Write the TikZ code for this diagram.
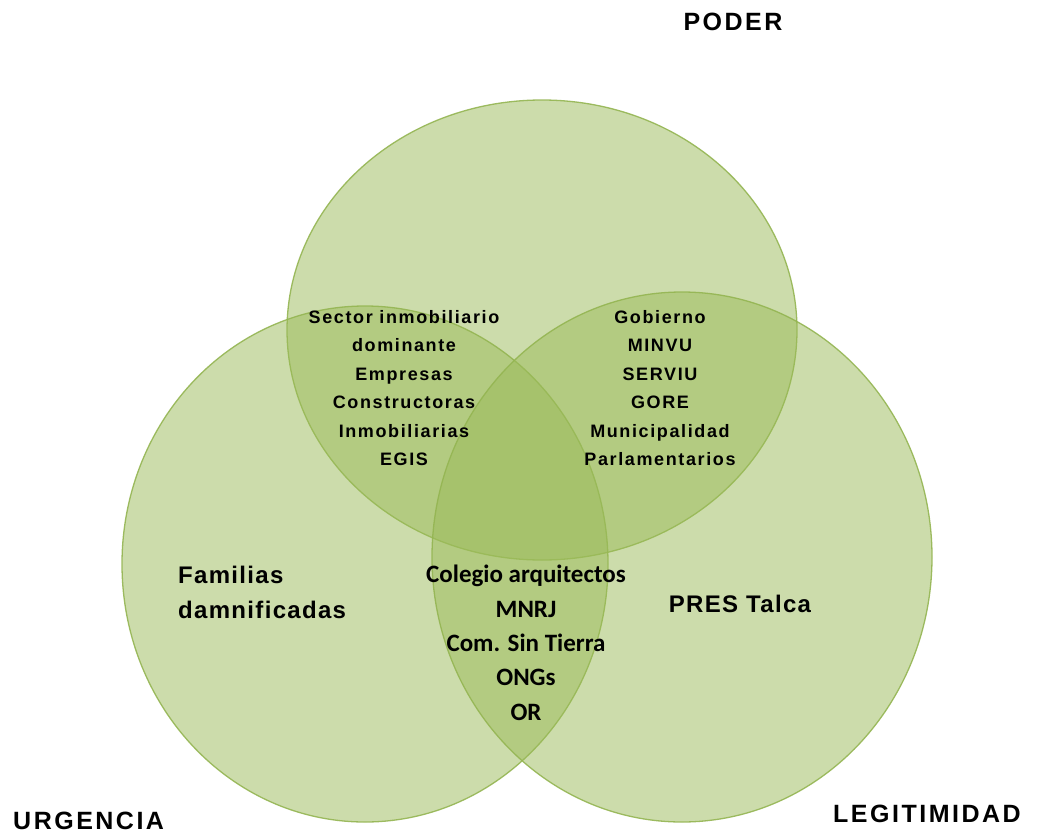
\documentclass[tikz,border=0pt]{standalone}
\usepackage{fontspec}
\setmainfont{Liberation Sans}
\newfontfamily\arialL{Liberation Sans}[LetterSpace=10]
\newfontfamily\arialM{Liberation Sans}[LetterSpace=9]
\newfontfamily\arialS{Liberation Sans}[LetterSpace=5.5]
\newfontfamily\calB{Carlito}
\definecolor{vfill}{HTML}{9BBB59}
\definecolor{vline}{HTML}{94B552}
\begin{document}
\begin{tikzpicture}[x=1pt,y=-1pt,
  venn/.style={draw=vline, line width=1.3pt, fill=vfill, fill opacity=0.5, draw opacity=0.9},
  setlabel/.style={inner sep=0pt, font=\arialL\bfseries\fontsize{25}{30}\selectfont},
  listA/.style={inner sep=0pt, align=center, font=\arialM\bfseries\fontsize{18}{28.5}\selectfont},
  listB/.style={inner sep=0pt, align=center, font=\calB\bfseries\fontsize{25}{34.3}\selectfont},
  soloA/.style={inner sep=0pt, font=\arialS\bfseries\fontsize{24}{35}\selectfont}
]
\useasboundingbox (0,0) rectangle (1039,833);
\fill[white] (0,0) rectangle (1039,833);
% circles
\draw[venn] (542,330) ellipse [x radius=255pt, y radius=230pt];
\draw[venn] (365,564) ellipse [x radius=243pt, y radius=258pt];
\draw[venn] (682,557) ellipse [x radius=250pt, y radius=265pt];
% set labels
\node[setlabel, anchor=base] (poder) at (733,30) {PODER};
\node[setlabel, anchor=base west] (urg) at (13,829) {URGENCIA};
\node[setlabel, anchor=base west] (leg) at (833,822) {LEGITIMIDAD};
% region texts (base anchor = baseline of the last line)
\node[listA, anchor=base] (sector) at (404,465.5) {Sector inmobiliario\\dominante\\Empresas\\Constructoras\\Inmobiliarias\\EGIS};
\node[listA, anchor=base] (gob) at (660,465.5) {Gobierno\\MINVU\\SERVIU\\GORE\\Municipalidad\\Parlamentarios};
\node[listB, anchor=base] (cole) at (526,720) {Colegio arquitectos\\MNRJ\\Com. Sin Tierra\\ONGs\\OR};
\node[soloA, anchor=base west, align=left] (fam) at (178,618) {Familias\\damnificadas};
\node[soloA, anchor=base] (pres) at (740,612) {PRES Talca};
\end{tikzpicture}
\end{document}
